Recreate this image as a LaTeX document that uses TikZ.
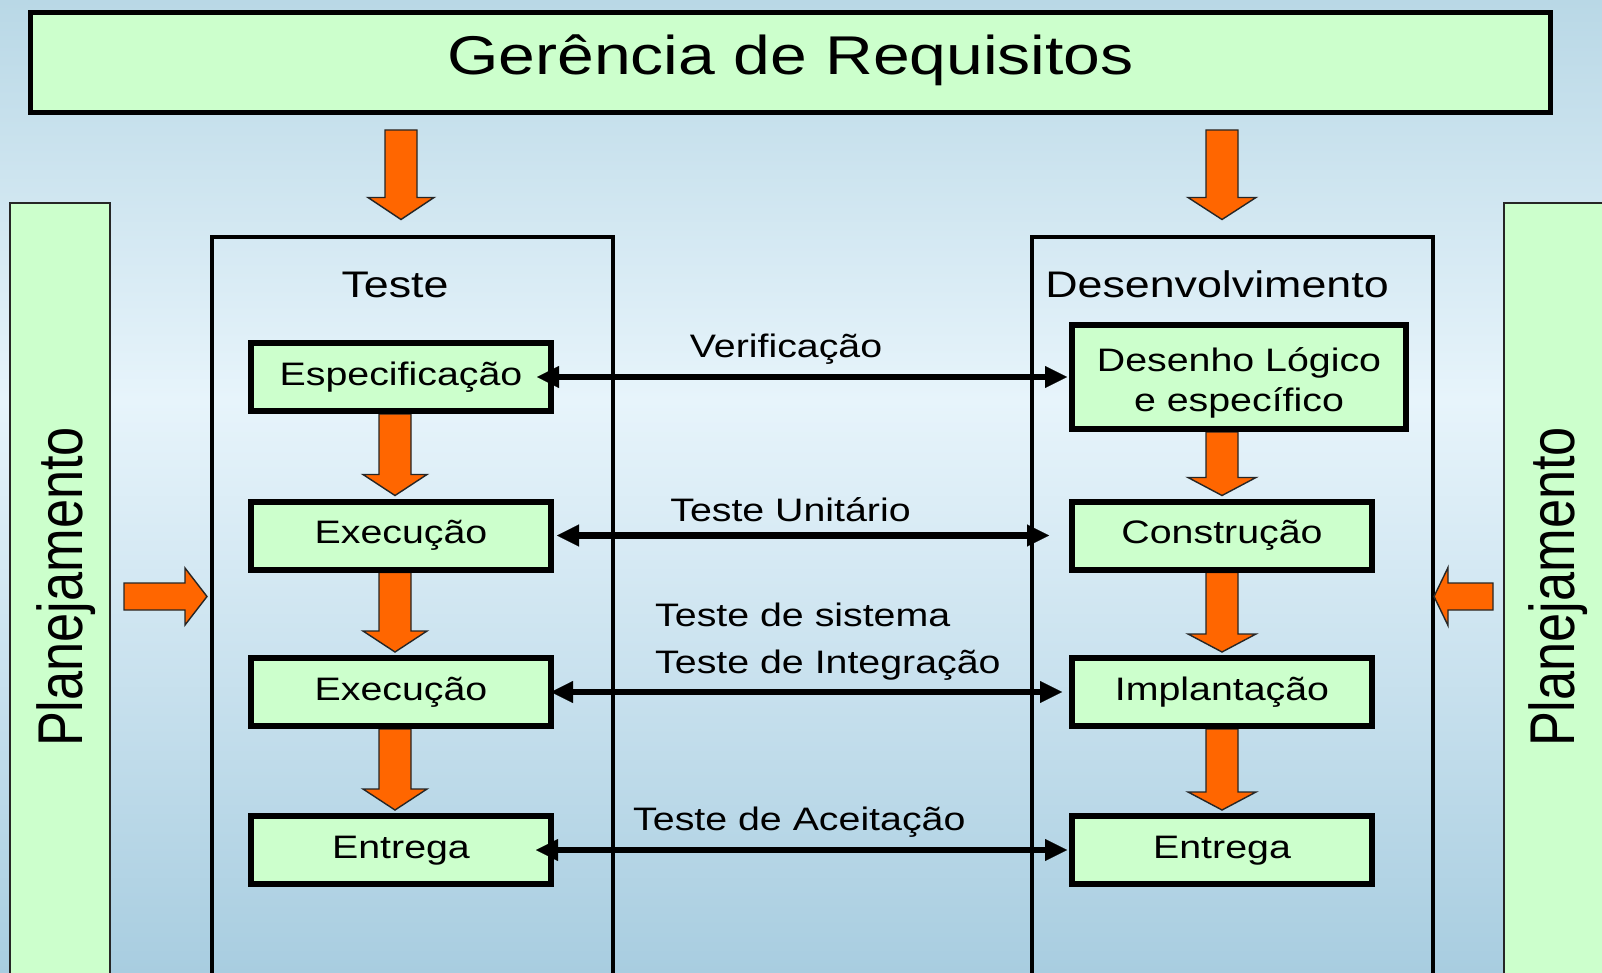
\documentclass[tikz,border=0pt]{standalone}
\usepackage{fontspec}
\usepackage{graphicx}
\setmainfont{Liberation Sans}[FakeStretch=1.21]
\newfontfamily\plainsans{Liberation Sans}
\usetikzlibrary{arrows.meta,calc}
\definecolor{lgreen}{HTML}{CCFFCC}
\definecolor{orng}{HTML}{FF6600}
\definecolor{bgtop}{HTML}{B9D8E6}
\definecolor{bgmid}{HTML}{E7F4FB}
\definecolor{bgbot}{HTML}{A8CDE0}
\definecolor{edgegray}{HTML}{262626}
\pgfdeclarelayer{bg}
\pgfsetlayers{bg,main}
\tikzset{
  greenbox/.style={draw=black, line width=6pt, fill=lgreen, inner sep=0pt,
    text height=23pt, text depth=7pt, font=\fontsize{32.5}{40}\selectfont,
    minimum width=300pt, minimum height=68pt},
  twolinebox/.style={draw=black, line width=6pt, fill=lgreen, inner sep=0pt,
    align=center, font=\fontsize{32.5}{40}\selectfont,
    minimum width=334pt, minimum height=104pt},
  container/.style={draw=black, line width=4pt, inner sep=0pt},
  sidebar/.style={draw=edgegray, line width=2pt, fill=lgreen, inner sep=0pt},
  lbl/.style={inner sep=0pt, font=\fontsize{32.5}{40}\selectfont},
  ttl/.style={inner sep=0pt, anchor=base, font=\fontsize{37}{40}\selectfont},
  biarrow/.style={line width=6.5pt,
    {Triangle[length=22pt,width=22pt,line width=0.1pt]}-{Triangle[length=22pt,width=22pt,line width=0.1pt]}},
  blockarrow/.style n args={3}{fill=orng, draw=edgegray, line width=1.4pt, line join=miter,
    to path={
      ($(\tikztotarget)!#3!(\tikztostart)$) coordinate (bah)
      ($(\tikztostart)!#1!90:(\tikztotarget)$) -- ($(bah)!#1!-90:(\tikztostart)$)
      -- ($(bah)!#2!-90:(\tikztostart)$) -- (\tikztotarget)
      -- ($(bah)!#2!90:(\tikztostart)$) -- ($(bah)!#1!90:(\tikztostart)$)
      -- ($(\tikztostart)!#1!-90:(\tikztotarget)$) -- cycle
    }},
}
\begin{document}
\begin{tikzpicture}[x=1pt,y=-1pt]
\useasboundingbox (0,0) rectangle (1602,973);
\begin{pgfonlayer}{bg}
  \fill[top color=bgtop, bottom color=bgmid] (0,0) rectangle (1602,400);
  \fill[top color=bgmid, bottom color=bgbot] (0,400) rectangle (1602,973);
\end{pgfonlayer}

% top box
\node[draw=black, line width=5pt, fill=lgreen, inner sep=0pt,
      minimum width=1520pt, minimum height=100pt,
      font=\fontsize{54.6}{60}\selectfont, text height=39pt, text depth=14pt]
      (req) at (790.5,62.5) {Gerência de Requisitos};

% side bars
\node[sidebar, minimum width=100pt, minimum height=800pt] (planL) at (60,603) {};
\node[sidebar, minimum width=100pt, minimum height=800pt] (planR) at (1553.5,603) {};
\node[rotate=90, anchor=base, inner sep=0pt] (planLt) at (82,587)
  {\scalebox{1}[1.21]{\plainsans\fontsize{52.3}{60}\selectfont Planejamento}};
\node[rotate=90, anchor=base, inner sep=0pt] (planRt) at (1574,587)
  {\scalebox{1}[1.21]{\plainsans\fontsize{52.3}{60}\selectfont Planejamento}};

% containers
\node[container, minimum width=401pt, minimum height=760pt] (teste) at (412.5,617) {};
\node[container, minimum width=400.5pt, minimum height=760pt] (desenv) at (1232.25,617) {};
\node[ttl] (testet) at (395,298) {Teste};
\node[ttl] (desenvt) at (1217,298) {Desenvolvimento};

% inner boxes
\node[greenbox] (esp) at (401,377) {Especificação};
\node[greenbox] (exe1) at (401,535.5) {Execução};
\node[greenbox] (exe2) at (401,692) {Execução};
\node[greenbox] (ent1) at (401,850) {Entrega};
\node[twolinebox] (des) at (1239,377) {\rule{0pt}{36pt}Desenho Lógico\\e específico};
\node[greenbox] (con) at (1222,535.5) {Construção};
\node[greenbox] (imp) at (1222,692) {Implantação};
\node[greenbox] (ent2) at (1222,850) {Entrega};

% orange block arrows
\coordinate (ta1) at (401,130);
\coordinate (ta2) at (401,219.5);
\coordinate (tb1) at (1222,130);
\coordinate (tb2) at (1222,219.5);
\draw[blockarrow={16pt}{33pt}{22pt}] (ta1) to (ta2);
\draw[blockarrow={16pt}{34pt}{22pt}] (tb1) to (tb2);

\coordinate (la1) at (124,596.5);
\coordinate (la2) at (207,596.5);
\coordinate (ra1) at (1493,596.5);
\coordinate (ra2) at (1434,596.5);
\draw[blockarrow={13.5pt}{28.5pt}{22pt}] (la1) to (la2);
\draw[blockarrow={13.5pt}{29pt}{14pt}] (ra1) to (ra2);

\coordinate (c1s) at ($(esp.south)+(-6,0)$);
\coordinate (c1t) at ($(exe1.north)+(-6,-3)$);
\coordinate (c2s) at ($(exe1.south)+(-6,0)$);
\coordinate (c2t) at ($(exe2.north)+(-6,-3)$);
\coordinate (c3s) at ($(exe2.south)+(-6,0)$);
\coordinate (c3t) at ($(ent1.north)+(-6,-3)$);
\coordinate (d1s) at (des.south -| con.north);
\coordinate (d1t) at ($(con.north)+(0,-3)$);
\coordinate (d2s) at (con.south);
\coordinate (d2t) at ($(imp.north)+(0,-3)$);
\coordinate (d3s) at (imp.south);
\coordinate (d3t) at ($(ent2.north)+(0,-3)$);
\begin{pgfonlayer}{bg}
  \draw[blockarrow={16pt}{32pt}{21pt}] (c1s) to (c1t);
  \draw[blockarrow={16pt}{32pt}{21pt}] (c2s) to (c2t);
  \draw[blockarrow={16pt}{32pt}{21pt}] (c3s) to (c3t);
  \draw[blockarrow={16pt}{34pt}{18pt}] (d1s) to (d1t);
  \draw[blockarrow={16pt}{34pt}{18pt}] (d2s) to (d2t);
  \draw[blockarrow={16pt}{34pt}{18pt}] (d3s) to (d3t);
\end{pgfonlayer}

% black double arrows
\draw[biarrow] ($(esp.east)+(-17,0)$) -- ($(des.west)+(-2,0)$);
\draw[biarrow] ($(exe1.east)+(3,0)$) -- ($(con.west)+(-20,0)$);
\draw[biarrow] ($(exe2.east)+(-3,0)$) -- ($(imp.west)+(-7,0)$);
\draw[biarrow] ($(ent1.east)+(-18,0)$) -- ($(ent2.west)+(-2,0)$);

% labels
\node[lbl, anchor=base] (lv) at (786,357) {Verificação};
\node[lbl, anchor=base] (lu) at (790.5,521.5) {Teste Unitário};
\node[lbl, anchor=base west] (ls) at (655,626.5) {Teste de sistema};
\node[lbl, anchor=base west] (li) at (655,673) {Teste de Integração};
\node[lbl, anchor=base west] (lac) at (633,830) {Teste de Aceitação};
\end{tikzpicture}
\end{document}
